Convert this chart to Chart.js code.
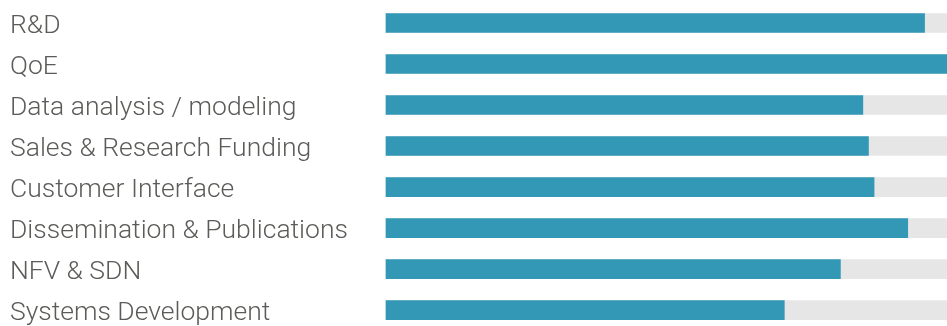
<!DOCTYPE html>
<html>
<head>
<meta charset="utf-8">
<script src="https://cdn.jsdelivr.net/npm/chart.js@4"></script>
<style>
  body { margin: 0; background: #fff; }
  #wrap { width: 947px; height: 326px; }
</style>
</head>
<body>
<div id="wrap"><canvas id="grafico"></canvas></div>
<script>
// Competências e níveis (em %)
var categories = ['R&D', 'QoE', 'Data analysis / modeling', 'Sales & Research Funding',
  'Customer Interface', 'Dissemination & Publications', 'NFV & SDN', 'Systems Development'];
var levels = [96, 100, 85, 86, 87, 93, 81, 71];
var fullScale = [100, 100, 100, 100, 100, 100, 100, 100];

var ctx = document.getElementById('grafico').getContext('2d');
new Chart(ctx, {
  type: 'bar',
  data: {
    labels: categories,
    datasets: [{
      data: levels,
      backgroundColor: '#3398b6', // barra azul
      barThickness: 19,
      grouped: false,
      clip: false,
      order: 0
    }, {
      data: fullScale,
      backgroundColor: '#e6e6e6', // fundo cinza
      barThickness: 19,
      grouped: false,
      clip: false,
      order: 1
    }]
  },
  options: {
    indexAxis: 'y',
    responsive: true,
    maintainAspectRatio: false,
    animation: false,
    layout: { padding: { left: 10, right: 0, top: 23, bottom: 13 } },
    plugins: { legend: { display: false }, tooltip: { enabled: false } },
    scales: {
      x: { display: false, min: 0, max: 100 },
      y: {
        offset: false,
        grid: { display: false },
        border: { display: false },
        ticks: {
          autoSkip: false,
          crossAlign: 'far',
          padding: 0,
          labelOffset: 3,
          color: '#5a5c58',
          font: { family: 'Roboto', weight: '300', size: 26.5 }
        },
        afterFit: function (scale) { scale.width = 376; }
      }
    }
  }
});
</script>
</body>
</html>
